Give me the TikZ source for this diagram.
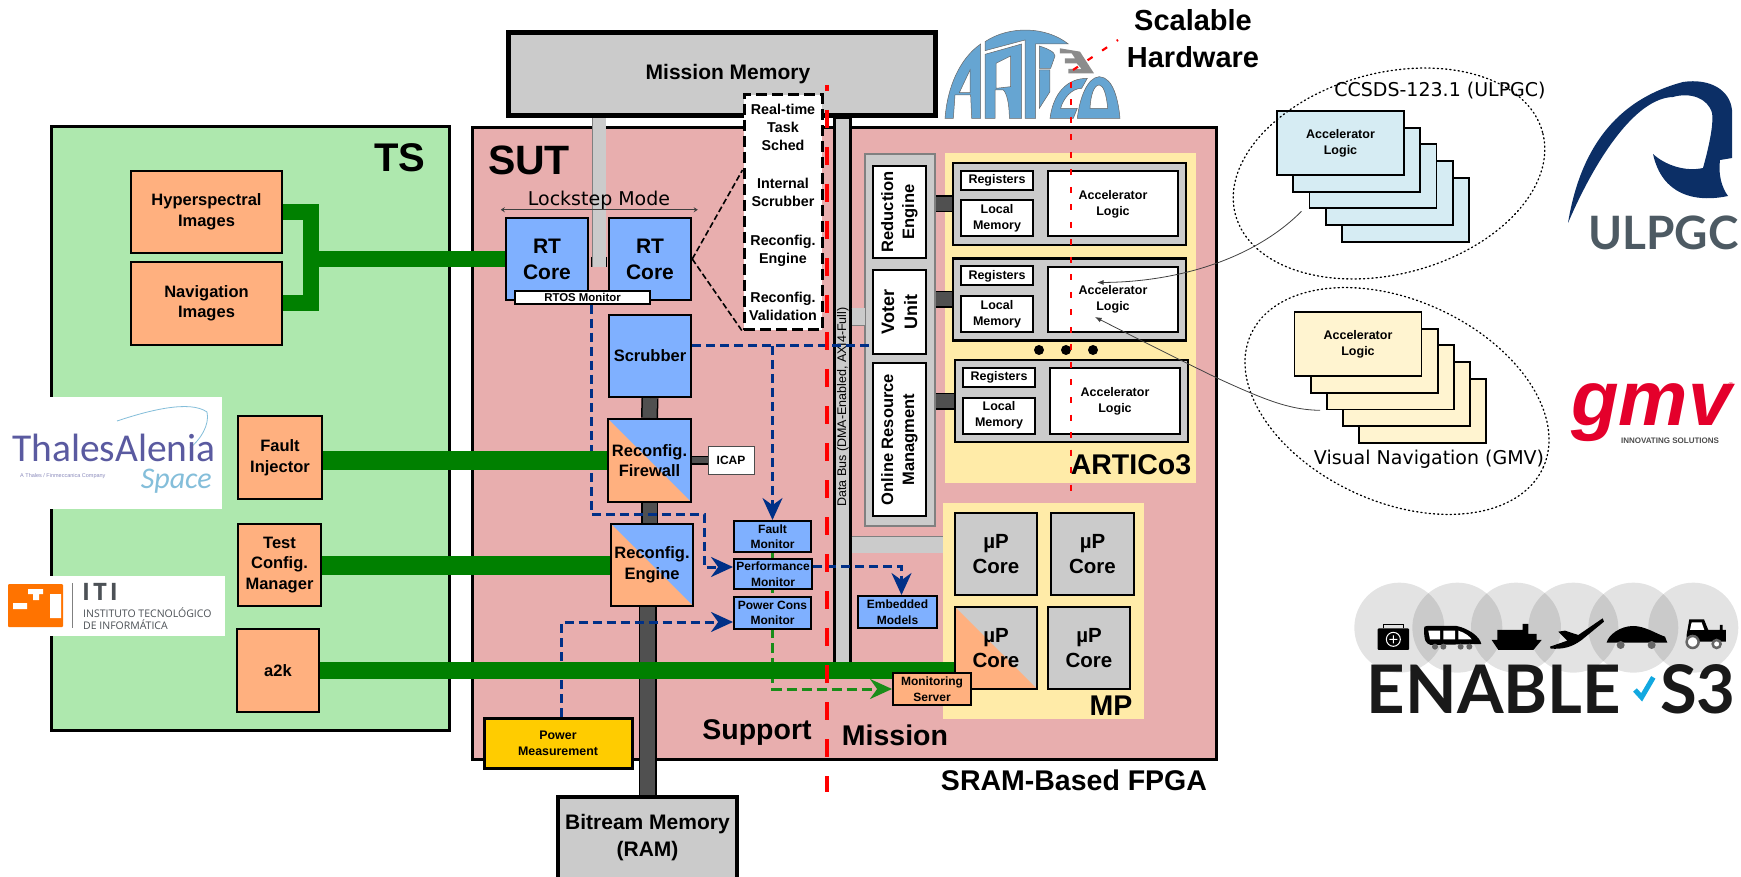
\documentclass[tikz,border=0pt]{standalone}
\usepackage{fontspec}
\setmainfont{Liberation Sans}
\newfontfamily\dejavu{DejaVu Sans}
\newfontfamily\logosans{Lato}
\newfontfamily\logohuman{Carlito}
\newfontfamily\logoopen{Open Sans}
\usetikzlibrary{arrows.meta,positioning,calc}
\pgfdeclarelayer{base}
\pgfdeclarelayer{wires}
\pgfsetlayers{base,wires,main}
\definecolor{tsgreen}{HTML}{AEE8AE}
\definecolor{sutpink}{HTML}{E8AEAE}
\definecolor{tsorange}{HTML}{FFB07F}
\definecolor{coreblue}{HTML}{7FB0FF}
\definecolor{memgrey}{HTML}{CBCBCB}
\definecolor{busdark}{HTML}{505050}
\definecolor{panelyellow}{HTML}{FFEBA8}
\definecolor{pwryellow}{HTML}{FFCC00}
\definecolor{linkgreen}{HTML}{008000}
\definecolor{ctrlblue}{HTML}{003087}
\definecolor{stackblue}{HTML}{D6ECF3}
\definecolor{stackcream}{HTML}{FFF4D0}
\definecolor{articoblue}{HTML}{66A5D2}
\definecolor{ulpgcnavy}{HTML}{0C2F66}
\definecolor{ulpgcgrey}{HTML}{4D5A63}
\definecolor{gmvred}{HTML}{E4002B}
\definecolor{thalesviolet}{HTML}{5A5AA0}
\definecolor{thalessky}{HTML}{84BEDA}
\definecolor{itiorange}{HTML}{FF7300}
\definecolor{itigrey}{HTML}{4C5156}
\definecolor{tickblue}{HTML}{12A8E0}
\newcommand{\fsz}[2]{\fontsize{#1}{#2}\selectfont}
\tikzset{
  wh/.style 2 args={minimum width=#1pt-2pt,minimum height=#2pt-2pt},
  stdbox/.style={draw,line width=2.5pt,inner sep=0pt,align=center,font=\bfseries\fsz{16.5}{20.5}},
  orangebox/.style={stdbox,fill=tsorange},
  blockbox/.style={stdbox,fill=coreblue},
  corebox/.style={stdbox,fill=coreblue,font=\bfseries\fsz{21}{26}},
  monbox/.style={stdbox,fill=coreblue,line width=2pt,font=\bfseries\fsz{12}{15.5}},
  memorybox/.style={stdbox,fill=memgrey,line width=3.5pt,font=\bfseries\fsz{21}{27}},
  mupbox/.style={stdbox,fill=memgrey,font=\bfseries\fsz{20.5}{25.5}},
  cellbox/.style={stdbox,fill=white,line width=2pt,font=\bfseries\fsz{12.5}{16}},
  ctrlbox/.style={stdbox,fill=white},
  slotbox/.style={stdbox,fill=memgrey},
  cardbox/.style={stdbox,line width=1.8pt,wh={129}{66},font=\bfseries\fsz{12.5}{16}},
  halfbox/.style 2 args={fill=#1,path picture={\fill[#2] (path picture bounding box.north west)--(path picture bounding box.south east)--(path picture bounding box.south west)--cycle;}},
  bigtext/.style={inner sep=0pt,align=center,font=\bfseries\fsz{28.5}{32}},
  thintext/.style={inner sep=0pt,font=\dejavu\fsz{19}{22}},
  greenbar/.style={linkgreen,line width=#1pt},
  lightbus/.style={draw=gray,line width=.8pt,double=memgrey,double distance=#1pt},
  darkbus/.style={draw=black,line width=1.5pt,double=busdark,double distance=#1pt},
  bluedash/.style={ctrlblue,line width=3pt,dash pattern=on 9pt off 5pt},
  greendash/.style={linkgreen!90!white,line width=3pt,dash pattern=on 10pt off 5pt},
  bigtip/.style={-{Stealth[length=22pt,width=20pt]}},
  zoomline/.style={line width=1.6pt,dash pattern=on 6pt off 3pt},
  reddash/.style={red,line width=4pt,dash pattern=on 18pt off 19pt,dash phase=12pt},
  redthin/.style={red,line width=2.2pt,dash pattern=on 6pt off 11.5pt},
  dotline/.style={line width=1.3pt,dash pattern=on 1.2pt off 3pt,line cap=round},
  callout/.style={black!75,line width=.8pt,->}
}
\begin{document}
\begin{tikzpicture}[>=Latex,x=1pt,y=-1pt]
\useasboundingbox (0,0) rectangle (1741,877);
\coordinate (rtlink) at (599,267);
\coordinate (tsjoin) at (311,259);
\coordinate (mpfeed) at (900,544.5);
\coordinate (splittop) at (827,85);
\coordinate (splitbot) at (827,792);
\coordinate (hwtop) at (1071,82);
\coordinate (hwbot) at (1071,491);
\coordinate (scaletop) at (1118,40);
\coordinate (scalebot) at (1073,70);
\begin{pgfonlayer}{base}
\node[draw,line width=3pt,fill=tsgreen,wh={400}{605}] (tsarea) at (250,428.5) {};
\node[draw,line width=3pt,fill=sutpink,wh={746}{633}] (sutarea) at (844,443.5) {};
\node[fill=panelyellow,wh={253}{332}] (articopanel) at (1070.5,318) {};
\node[fill=panelyellow,wh={203}{218}] (mppanel) at (1043.5,611) {};
\node[draw=gray,line width=1.2pt,fill=memgrey,wh={72}{374}] (ctrlpanel) at (900,340) {};
\node[draw,line width=3pt,fill=memgrey,wh={18}{561}] (databus) at (842,397.5) {};
\node[rotate=90,inner sep=0pt,font=\fsz{12.5}{14}] (databuslabel) at (843,407) {Data Bus (DMA-Enabled, AXI4-Full)};
\draw[lightbus=16] (databus.east |- mpfeed) -- (mppanel.west |- mpfeed);
\draw[lightbus=17] (databus.east |- ctrlpanel) ++(0,-23) -- ++(13,0);
\draw[lightbus=13] (rtlink |- 0,117) -- (rtlink);
\draw[line width=1.5pt] ([xshift=-7.5pt,yshift=10pt]rtlink) -- ([xshift=-7.5pt]rtlink);
\draw[line width=1.5pt] ([xshift=7.5pt,yshift=10pt]rtlink) -- ([xshift=7.5pt]rtlink);
\node[memorybox,line width=5pt,wh={429}{85}] (memory) at (721.5,74.5) {};
\end{pgfonlayer}
\node[inner sep=0pt,font=\bfseries\fsz{21}{24}] (memorylabel) at (728,74) {Mission Memory};
\node[bigtext,font=\bfseries\fsz{40}{44}] (tslabel) at (400,158) {TS};
\node[bigtext,font=\bfseries\fsz{41}{44}] (sutlabel) at (529,160) {SUT};
\node[orangebox,wh={153}{84}] (hyper) at (206.5,212) {Hyperspectral\\Images};
\node[orangebox,wh={153}{85}] (navig) at (206.5,303.5) {Navigation\\Images};
\node[orangebox,wh={86}{85}] (fault) at (280,457.5) {Fault\\Injector};
\node[orangebox,wh={85}{84}] (testcfg) at (279.5,565) {Test\\Config.\\Manager};
\node[orangebox,wh={84}{85}] (atwok) at (278,670.5) {a2k};
\node[corebox,wh={84}{84}] (rtcorea) at (547,259) {RT\\Core};
\node[corebox,wh={84}{84}] (rtcoreb) at (650,259) {RT\\Core};
\node[cellbox,line width=1.5pt,wh={137}{15},font=\bfseries\fsz{11.4}{13}] (rtos) at (582.5,297.5) {RTOS Monitor};
\node[blockbox,wh={84}{84}] (scrubber) at (650,356) {Scrubber};
\node[blockbox,halfbox={coreblue}{tsorange},wh={85}{85}] (firewall) at (649.5,460.5) {Reconfig.\\Firewall};
\node[blockbox,halfbox={coreblue}{tsorange},wh={84}{84}] (engine) at (652,565) {Reconfig.\\Engine};
\node[stdbox,draw=black!70,fill=white,line width=1pt,wh={48}{30},font=\bfseries\fsz{12}{14}] (icap) at (731,460) {ICAP};
\node[memorybox,wh={181}{84}] (bitmem) at (647.5,838) {Bitream Memory\\(RAM)};
\node[stdbox,fill=pwryellow,line width=3pt,wh={150}{52},font=\bfseries\fsz{12.4}{16}] (pwrmeas) at (558,743) {Power\\Measurement};
\node[monbox,wh={79}{33}] (faultmon) at (772.5,536.5) {Fault\\Monitor};
\node[monbox,wh={80}{32}] (perf) at (773,574) {Performance\\Monitor};
\node[monbox,wh={79}{34}] (pwrcons) at (772.5,613) {Power Cons\\Monitor};
\node[monbox,wh={81}{34}] (embedded) at (897.5,612) {Embedded\\Models};
\node[ctrlbox,wh={55}{94}] (reduc) at (899.5,212) {};
\node[ctrlbox,wh={55}{86}] (voter) at (899.5,312) {};
\node[ctrlbox,wh={55}{155}] (online) at (899.5,439.5) {};
\node[rotate=90,inner sep=0pt,align=center,font=\bfseries\fsz{16.5}{21}] (reduclabel) at (reduc) {Reduction\\Engine};
\node[rotate=90,inner sep=0pt,align=center,font=\bfseries\fsz{18}{23}] (voterlabel) at (voter) {Voter\\Unit};
\node[rotate=90,inner sep=0pt,align=center,font=\bfseries\fsz{16.5}{21}] (onlinelabel) at (online) {Online Resource\\Managment};
\foreach \n/\x/\y in {a/1069.5/204,b/1069.5/299.5,c/1071.5/401}{
  \node[slotbox,wh={235}{84}] (slot\n) at (\x,\y) {};
  \node[cellbox,wh={74}{21}] (regs\n) at (\x-72.5,\y-23.5) {Registers};
  \node[cellbox,wh={74}{38}] (local\n) at (\x-72.5,\y+14.5) {Local\\Memory};
  \node[cellbox,wh={132}{67}] (logic\n) at (\x+43.5,\y) {Accelerator\\Logic};
  \begin{pgfonlayer}{wires}
  \draw[darkbus=14] (ctrlpanel.east |- slot\n) -- (slot\n.west);
  \end{pgfonlayer}
}
\foreach \x in {1039,1066,1093}{\fill (\x,350) circle (5pt);}
\node[bigtext] (articolabel) at (1131,465) {ARTICo3};
\node[bigtext] (mplabel) at (1111,706) {MP};
\node[mupbox,wh={84}{84}] (mupa) at (996,554) {µP\\Core};
\node[mupbox,wh={85}{84}] (mupb) at (1092.5,554) {µP\\Core};
\node[mupbox,halfbox={memgrey}{tsorange},wh={84}{84}] (mupc) at (996,648) {µP\\Core};
\node[mupbox,wh={84}{84}] (mupd) at (1089,648) {µP\\Core};
\node[monbox,fill=tsorange,wh={80}{34}] (monserver) at (932,689) {Monitoring\\Server};
\node[draw,fill=white,line width=3pt,dash pattern=on 11pt off 5pt,wh={80}{237},inner sep=0pt,align=center,font=\bfseries\fsz{14.3}{18}] (zoomsched) at (783,212.5) {Real-time\\Task\\Sched\\[20pt]Internal\\Scrubber\\[21pt]Reconfig.\\Engine\\[21pt]Reconfig.\\Validation};
\begin{pgfonlayer}{wires}
\draw[darkbus=14] (scrubber.south) -- (firewall.north);
\draw[darkbus=14] (firewall.south) -- (firewall.south |- engine.north);
\draw[darkbus=15] (bitmem.north) -- (bitmem.north |- engine.south);
\draw[darkbus=6] (firewall.east |- icap) -- (icap.west);
\draw[bluedash,bigtip] ([xshift=8.5pt]rtos.south) -- (591,514) -- (704,514) -- (704,567) -- ([yshift=7pt]perf.west);
\draw[bluedash] ([yshift=10pt]scrubber.east) -- ([yshift=10pt]scrubber.east -| voter.west);
\draw[bluedash,bigtip] ([yshift=10pt]scrubber.east -| faultmon.north) -- (faultmon.north);
\draw[bluedash,bigtip] ([yshift=8pt]perf.east) -| ([xshift=4pt]embedded.north);
\draw[bluedash,bigtip] ([xshift=3pt]pwrmeas.north) |- ([yshift=-9pt]pwrcons.west);
\draw[greendash,bigtip] (faultmon.south) |- (monserver.west);
\draw[greenbar=16] (hyper.east) -| (tsjoin);
\draw[greenbar=16] (navig.east) -| (tsjoin);
\draw[greenbar=16] (tsjoin) -- (rtcorea.west);
\draw[greenbar=19] (fault.east |- firewall) -- (firewall.west);
\draw[greenbar=19] (testcfg.east) -- (engine.west);
\draw[greenbar=17] (atwok.east) -- (mupc.west |- atwok);
\draw[zoomline] (rtcoreb.east) -- ([yshift=42.5pt]zoomsched.west);
\draw[zoomline] (rtcoreb.east) -- (zoomsched.south west);
\end{pgfonlayer}
\draw[line width=1pt,black!75,{Stealth[length=4pt,width=5pt]}-{Stealth[length=4pt,width=5pt]}] (rtcorea.north west) ++(-4,-7) -- ++(197,0);
\node[thintext] (locklabel) at (599,200) {Lockstep Mode};
\node[bigtext] (supportlabel) at (757,733) {Support};
\node[bigtext] (missionlabel) at (895,735) {Mission};
\node[bigtext] (sramlabel) at (1074,780) {SRAM-Based FPGA};
\node[bigtext,font=\bfseries\fsz{29}{37}] (scalelabel) at (1193,38.5) {Scalable\\Hardware};
\foreach \k in {4,3,2,1}{\node[cardbox,fill=stackblue] (ccsdscard\k) at (1340.5+16.2*\k,143+16.7*\k) {};}
\node[cardbox,fill=stackblue] (ccsdscard0) at (1340.5,143) {Accelerator\\Logic};
\foreach \k in {4,3,2,1}{\node[cardbox,fill=stackcream] (navcard\k) at (1358+16.2*\k,344+16.7*\k) {};}
\node[cardbox,fill=stackcream] (navcard0) at (1358,344) {Accelerator\\Logic};
\draw[dotline] (1389,173.5) ellipse [x radius=159pt,y radius=100.5pt,rotate=15];
\draw[dotline] (1397,401) ellipse [x radius=160.6pt,y radius=100.9pt,rotate=-24.5];
\node[thintext] (ccsdslabel) at (1440,91) {CCSDS-123.1 (ULPGC)};
\node[thintext] (navlabel) at (1429,459) {Visual Navigation (GMV)};
\draw[callout] ([xshift=-7pt,yshift=-2pt]ccsdscard2.south west) .. controls (1255,258) and (1180,282) .. ([xshift=-16pt,yshift=17pt]logicb.center);
\draw[callout] ([xshift=-6pt]navcard2.south west) .. controls (1290,410) and (1265,400) .. (1217,378) .. controls (1180,360) and (1130,335) .. ([xshift=-18pt,yshift=-17.5pt]logicb.center);
\begin{scope}[shift={(940,20)},x=.3333pt,y=-.3333pt]
\filldraw[fill=articoblue,draw=black!60,line width=.5pt,even odd rule]
  (15,295) .. controls (22,200) and (60,115) .. (122,72) -- (122,295) -- (95,295) -- (92,225) -- (45,225) -- (40,295) -- cycle (58,218) -- (90,218) -- (90,150) -- cycle
  (135,295) -- (135,103) -- (245,72) -- (245,295) -- (208,295) .. controls (208,250) and (200,220) .. (190,210) -- (165,210) -- (165,295) -- cycle (168,130) -- (212,108) -- (212,200) -- (168,205) -- cycle
  (135,92) -- (135,65) .. controls (210,15) and (320,20) .. (385,72) -- (287,72) -- (287,295) -- (255,295) -- (255,60) -- cycle
  (298,78) .. controls (320,85) and (345,95) .. (345,108) -- (332,145) -- (298,145) -- cycle
  (298,150) -- (330,150) -- (330,215) -- (298,265) -- cycle
  (330,295) .. controls (340,220) and (380,175) .. (442,175) -- (425,205) .. controls (395,205) and (370,235) .. (362,265) -- (412,265) -- (400,295) -- cycle
  (412,295) .. controls (418,240) and (440,172) .. (478,170) .. controls (520,172) and (535,240) .. (540,295) -- cycle (450,265) -- (503,265) .. controls (500,225) and (490,195) .. (478,195) .. controls (462,195) and (452,225) .. (450,265) -- cycle;
\fill[black!45] (360,85) -- (420,95) -- (462,160) -- (385,160) -- (385,147) -- (425,147) -- (410,130) -- (375,130) -- (375,115) -- (405,115) -- (395,100) -- (360,100) -- cycle;
\end{scope}
\draw[reddash] (splittop) -- (splitbot);
\draw[redthin] (hwtop) -- (hwbot);
\draw[redthin] (scalebot) -- (scaletop);
\fill[white] (0,397) rectangle (222,509);
\draw[thalessky,line width=.8pt] (117,421) .. controls (150,410) and (190,400) .. (207,412) .. controls (210,425) and (200,440) .. (190,448);
\node[anchor=base west,inner sep=0pt,text=thalesviolet,font=\logohuman\fsz{39.5}{42}] (thalesname) at (12,461) {ThalesAlenia};
\node[anchor=base east,inner sep=0pt,text=thalessky,font=\logohuman\itshape\fsz{30}{32}] (thalesspace) at (212,488) {Space};
\node[anchor=west,inner sep=0pt,text=thalesviolet!70,font=\fsz{5.5}{6}] (thalestag) at (20,476) {A Thales / Finmeccanica Company};
\fill[white] (0,576) rectangle (225,636);
\fill[itiorange,rounded corners=1pt] (8,584) rectangle (63,627);
\fill[white] (13,603) rectangle (27,609) (28,589) rectangle (43,594) (33,589) rectangle (39,600) (50,594) rectangle (61,618);
\draw[black!50,line width=.6pt] (72,583) -- (72,628);
\node[anchor=base west,inner sep=0pt,text=itigrey,font=\logoopen\bfseries\addfontfeature{LetterSpace=12}\fsz{24}{25}] (itimark) at (82,600) {ITI};
\node[anchor=west,inner sep=0pt,text=itigrey,align=left,font=\logoopen\fsz{10.5}{11.5}] (itiname) at (83,618.5) {INSTITUTO TECNOLÓGICO\\DE INFORMÁTICA};
\fill[ulpgcnavy] (1568,223) .. controls (1580,150) and (1615,100) .. (1683,82) .. controls (1710,78) and (1730,90) .. (1732,110) -- (1732,158) -- (1720,160) .. controls (1718,175) and (1722,188) .. (1728,196) .. controls (1695,203) and (1662,195) .. (1653,154) .. controls (1665,165) and (1685,172) .. (1703,168) .. controls (1708,150) and (1714,125) .. (1712,113) .. controls (1708,98) and (1690,92) .. (1673,97) .. controls (1635,98) and (1595,160) .. cycle;
\node[anchor=base west,inner sep=0pt,text=ulpgcgrey,font=\logosans\bfseries\fsz{46}{48}] (ulpgcname) at (1588,250) {ULPGC};
\node[anchor=base west,inner sep=0pt,text=gmvred,font=\bfseries\itshape\fsz{78}{80}] (gmvname) at (1571,425) {gmv};
\node[inner sep=0pt,text=gmvred,font=\fsz{7}{8}] (gmvreg) at (1731,385) {®};
\node[inner sep=0pt,text=black!70,font=\bfseries\fsz{8}{9}] (gmvtag) at (1670,441) {INNOVATING SOLUTIONS};
\begin{scope}[shift={(1340,560)},x=.3333pt,y=-.3333pt]
\foreach \x in {178,352,528,700,880,1060}{\fill[black,opacity=.11] (\x,203) circle (45pt);}
\fill[black,rounded corners=1pt] (113,205) rectangle (207,270);
\draw[black,line width=1pt] (130,205) -- (130,193) -- (190,193) -- (190,205);
\draw[white,line width=1pt] (160,238) circle (7pt) (160,226) -- (160,250) (148,238) -- (172,238);
\fill[black] (252,205) .. controls (252,200) and (255,198) .. (262,198) -- (350,198) .. controls (385,205) and (420,230) .. (424,252) -- (272,255) .. controls (258,250) and (252,245) .. cycle;
\fill[white] (265,212) -- (300,212) -- (300,238) -- (270,238) -- cycle (310,212) -- (345,212) -- (345,238) -- (310,238) -- cycle (355,212) .. controls (375,218) and (390,230) .. (395,238) -- (355,238) -- cycle;
\foreach \x in {285,310,362,388}{\fill[black!60] (\x,260) circle (3pt);}
\fill[black] (455,240) -- (605,240) -- (580,270) -- (475,270) -- cycle (472,240) -- (472,210) -- (548,210) -- (548,192) -- (565,192) -- (565,222) -- (590,222) -- (590,240) -- cycle;
\fill[black] (788,175) -- (792,185) -- (725,240) .. controls (695,262) and (670,268) .. (632,266) -- (630,260) -- (682,242) -- (655,215) -- (675,212) -- (715,225) -- cycle;
\fill[black] (800,248) .. controls (805,225) and (840,198) .. (880,198) .. controls (915,198) and (950,222) .. (975,230) -- (982,248) -- cycle;
\foreach \x in {842,935}{\fill[black!60] (\x,255) circle (4pt);}
\fill[black] (1040,225) -- (1048,178) -- (1092,178) -- (1105,210) -- (1140,210) -- (1140,195) -- (1148,195) -- (1148,210) -- (1158,210) -- (1158,245) -- (1040,245) -- cycle;
\fill[white] (1055,187) -- (1085,187) -- (1093,210) -- (1050,210) -- cycle;
\filldraw[fill=white,draw=black!60,line width=2.5pt] (1058,246) circle (6pt) (1130,252) circle (4pt);
\node[anchor=base west,inner sep=0pt,text=black!90,font=\logosans\bfseries\fsz{67}{70}] (enablename) at (80,462) {ENABLE};
\draw[tickblue,line width=5pt] (885,390) -- (905,412) -- (940,352);
\node[anchor=base west,inner sep=0pt,text=black!90,font=\logosans\bfseries\fsz{67}{70}] (enables) at (960,462) {S3};
\end{scope}
\end{tikzpicture}
\end{document}
